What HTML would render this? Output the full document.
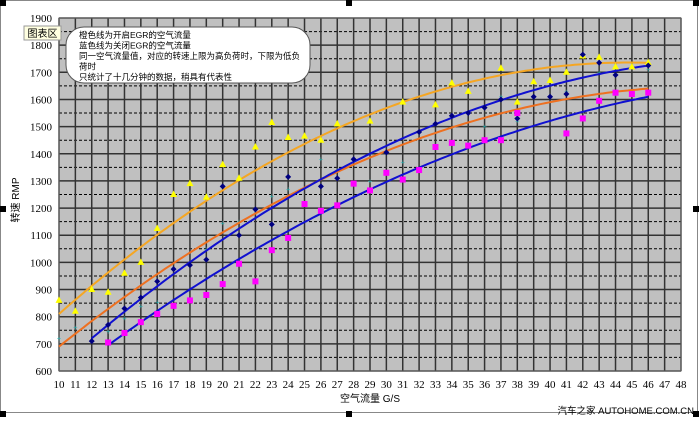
<!DOCTYPE html>
<html><head><meta charset="utf-8"><style>
body{margin:0;background:#fff;width:700px;height:418px;overflow:hidden}
text{font-family:"Liberation Serif","Noto Serif CJK SC",serif}
.c{font-family:"Liberation Sans","Noto Sans CJK SC",sans-serif}
</style></head><body>
<svg id="s" width="700" height="418" xmlns="http://www.w3.org/2000/svg"></svg>
<script>
const s=document.getElementById('s');
const X=u=>59+(u-10)*(622/38), Y=v=>18+(1900-v)*(353/1300);
let h='';
h+='<rect x="0.5" y="0.5" width="697" height="412" fill="none" stroke="#888" stroke-width="1"/>';
h+='<rect x="59" y="18" width="622" height="353" fill="#c0c0c0"/>';
for(let v=650;v<1900;v+=100)h+=`<line x1="59" x2="681" y1="${Y(v)}" y2="${Y(v)}" stroke="#000" stroke-dasharray="3,2" stroke-width="1"/>`;
for(let v=600;v<=1900;v+=100)h+=`<line x1="59" x2="681" y1="${Y(v)}" y2="${Y(v)}" stroke="#333" stroke-width="1.5"/>`;
for(let u=10;u<=48;u++)h+=`<line y1="18" y2="371" x1="${X(u)}" x2="${X(u)}" stroke="#333" stroke-width="1.5"/>`;
h+='<rect x="59" y="18" width="622" height="353" fill="none" stroke="#666"/>';
for(let v=600;v<=1900;v+=100)h+=`<text x="52" y="${Y(v)+4}" font-size="11" text-anchor="end">${v}</text>`;
for(let u=10;u<=48;u++)h+=`<text x="${X(u)}" y="388" font-size="11" text-anchor="middle">${u}</text>`;
h+='<text x="370" y="402" font-size="10" text-anchor="middle" class="c">空气流量 G/S</text>';
h+='<text transform="translate(19,200) rotate(-90)" font-size="10" text-anchor="middle" class="c">转速 RMP</text>';
function quad(a,ya,m,ym,b,yb,c,w){let p=[];for(let u=a;u<=b+1e-9;u+=0.25){let L=((u-m)*(u-b))/((a-m)*(a-b))*ya+((u-a)*(u-b))/((m-a)*(m-b))*ym+((u-a)*(u-m))/((b-a)*(b-m))*yb;p.push(X(u).toFixed(1)+','+Y(L).toFixed(1));}
return `<polyline points="${p.join(' ')}" fill="none" stroke="${c}" stroke-width="${w}"/>`;}
const cy=[[10,720],[11,760],[13,745],[14,795],[15,840],[16,855],[19,1050],[20,1145],[21,1150],[23,1245],[24,1270],[26,1380],[27,1340],[29,1300],[31,1370],[33,1430],[35,1440],[36,1500],[37,1610],[38,1520],[41,1630],[43,1700],[44,1620],[46,1710]];
cy.forEach(([u,v])=>h+=`<text x="${X(u)}" y="${Y(v)+3}" font-size="8" fill="#2bb" text-anchor="middle">+</text>`);
const yl=[[10,860],[11,820],[12,900],[13,890],[14,960],[15,1000],[16,1125],[17,1250],[18,1290],[19,1240],[20,1360],[21,1310],[22,1425],[23,1515],[24,1460],[25,1465],[26,1450],[27,1510],[29,1520],[31,1590],[33,1580],[34,1660],[35,1630],[37,1715],[38,1590],[39,1665],[40,1670],[41,1700],[42,1760],[43,1755],[44,1720],[45,1720],[46,1735]];
const nv=[[12,710],[13,770],[14,830],[15,870],[16,930],[17,975],[18,990],[19,1010],[20,1280],[21,1100],[22,1195],[23,1140],[24,1315],[25,1215],[26,1280],[27,1310],[28,1380],[30,1405],[32,1480],[33,1510],[34,1540],[35,1550],[36,1570],[37,1600],[38,1530],[39,1610],[40,1610],[41,1620],[42,1765],[43,1735],[44,1690],[46,1725]];
const mg=[[13,705],[14,740],[15,780],[16,810],[17,840],[18,860],[19,880],[20,920],[21,995],[22,930],[23,1045],[24,1090],[25,1215],[26,1190],[27,1210],[28,1290],[29,1265],[30,1330],[31,1305],[32,1340],[33,1425],[34,1440],[35,1430],[36,1450],[37,1450],[38,1550],[41,1475],[42,1530],[43,1595],[44,1625],[45,1620],[46,1625]];
h+=quad(10,810,28,1520,46,1735,'#f5a623',2);
h+=quad(10,690,28,1360,46,1640,'#ee7020',2);
h+=quad(12,720,28,1370,46,1725,'#1010d0',2);
h+=quad(13,695,28,1240,46,1610,'#1010d0',2);
yl.forEach(([u,v])=>{let x=X(u),y=Y(v);h+=`<polygon points="${x},${y-4} ${x-3.5},${y+2.5} ${x+3.5},${y+2.5}" fill="#ffff00"/>`});
nv.forEach(([u,v])=>{let x=X(u),y=Y(v);h+=`<polygon points="${x},${y-3} ${x+3},${y} ${x},${y+3} ${x-3},${y}" fill="#000080"/>`});
mg.forEach(([u,v])=>{let x=X(u),y=Y(v);h+=`<rect x="${x-3}" y="${y-3}" width="6" height="6" fill="#ff00ff"/>`});
h+='<rect x="66" y="27" width="244" height="56" rx="18" fill="#fff" stroke="#555"/>';
const lines=['橙色线为开启EGR的空气流量','蓝色线为关闭EGR的空气流量','同一空气流量值，对应的转速上限为高负荷时，下限为低负','荷时','只统计了十几分钟的数据，稍具有代表性'];
lines.forEach((t,i)=>h+=`<text x="79" y="${38+i*10.5}" font-size="8.5" class="c">${t}</text>`);
h+='<rect x="24" y="26" width="37" height="14" fill="#ffffe0" stroke="#999"/><text x="42.5" y="37" font-size="10" text-anchor="middle" class="c">图表区</text>';
[[0,0],[346,0],[693,0],[0,206],[693,206],[0,411],[346,411],[693,411]].forEach(([x,y])=>h+=`<rect x="${x}" y="${y}" width="6" height="6" fill="#000"/>`);
h+='<text x="694" y="414" font-size="9.5" text-anchor="end" class="c">汽车之家  AUTOHOME.COM.CN</text>';
s.innerHTML=h;
</script>
</body></html>
